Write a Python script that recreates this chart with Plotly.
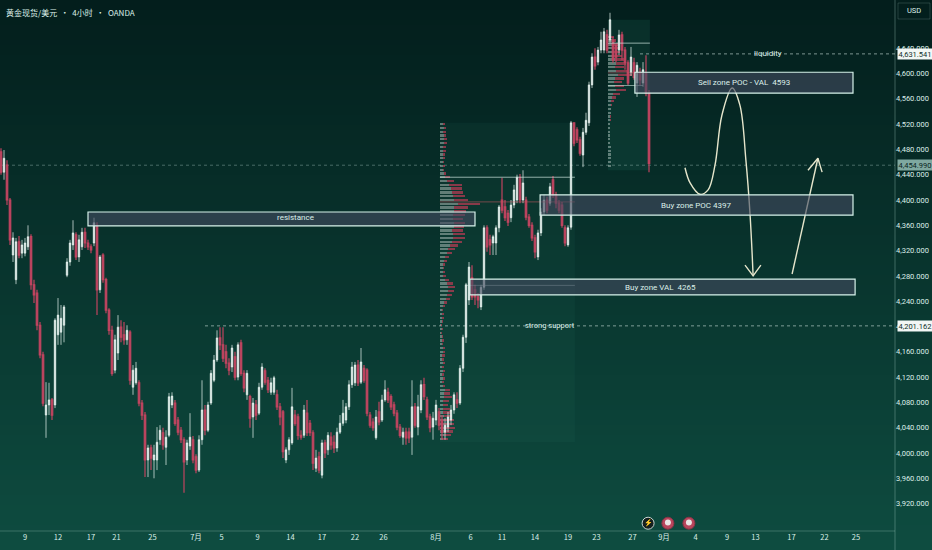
import plotly.graph_objects as go

opens = [
4476,4444,4455,4400,4313,4274,4334,4316,4316,4326,
4342,4266,4253,4202,4155,4060,4076,4084,4076,4187,
4191,4202,4281,4302,4329,4345,4310,4326,4349,4332,
4326,4332,4360,4258,4313,4274,4226,4194,4131,4158,
4199,4187,4179,4191,4104,4111,4111,4079,4060,3989,
4008,3989,3989,4021,4032,4009,4028,4076,4079,4052,
4036,4021,3989,4011,4021,3994,3973,4021,4068,4036,
4079,4115,4147,4182,4171,4160,4142,4136,4152,4120,
4174,4126,4092,4089,4057,4076,4063,4104,4130,4115,
4096,4096,4092,4073,4065,3989,4005,4016,4060,4057,
4028,4028,4063,4047,4032,3976,3994,3965,4016,4005,
4025,4017,4008,4033,4047,4052,4073,4108,4111,4139,
4112,4134,4131,4060,4049,4024,4065,4052,4084,4096,
4089,4076,4063,4041,4025,4033,4033,4025,4073,4041,
4068,4108,4084,4057,4041,4052,4065,4052,4033,4041,
4052,4068,4084,4079,4134,4183,4242,4277,4258,4247,
4231,4262,4356,4337,4332,4332,4356,4400,4389,4379,
4372,4392,4400,4436,4400,4400,4373,4360,4340,4310,
4348,4381,4400,4395,4432,4408,4395,4392,4356,4329,
4357,4522,4511,4495,4471,4507,4522,4582,4626,4618,
4637,4637,4661,4653,4653,4645,4637,4661,4637,4617,
4601,4617,4585,4602,4585,4601,4569]
closes = [
4444,4466,4400,4337,4340,4334,4313,4329,4332,4342,
4266,4250,4202,4155,4079,4076,4084,4060,4210,4218,
4213,4231,4302,4332,4348,4310,4337,4349,4332,4326,
4321,4364,4258,4310,4274,4226,4194,4126,4179,4199,
4183,4179,4194,4115,4131,4134,4079,4060,3989,4008,
3992,3997,4017,4036,4013,4025,4089,4090,4047,4033,
4021,3986,4016,4025,3989,3973,4021,4068,4036,4076,
4126,4147,4182,4171,4150,4142,4131,4166,4120,4171,
4126,4103,4126,4055,4079,4060,4104,4136,4112,4100,
4111,4119,4073,4057,4002,4005,4021,4073,4047,4028,
4025,4068,4032,4032,3984,3992,3973,4016,4000,4028,
4013,4008,4033,4047,4063,4073,4108,4136,4139,4111,
4144,4115,4063,4044,4040,4057,4049,4084,4100,4084,
4073,4063,4041,4028,4033,4024,4024,4073,4044,4073,
4108,4089,4057,4040,4055,4076,4044,4033,4044,4057,
4068,4092,4079,4134,4183,4266,4294,4247,4247,4242,
4262,4356,4326,4329,4342,4356,4389,4384,4372,4365,
4392,4416,4436,4400,4427,4373,4360,4340,4318,4348,
4381,4400,4384,4421,4408,4395,4384,4360,4332,4356,
4522,4490,4495,4474,4507,4526,4582,4626,4612,4637,
4653,4666,4637,4685,4621,4626,4661,4637,4617,4585,
4626,4594,4613,4590,4606,4569,4458]
highs = [
4482,4479,4463,4403,4349,4340,4343,4337,4340,4360,
4346,4274,4258,4207,4160,4112,4111,4087,4213,4245,
4234,4234,4308,4337,4368,4349,4345,4356,4356,4337,
4330,4372,4365,4313,4316,4277,4229,4201,4187,4218,
4210,4207,4202,4194,4139,4144,4115,4084,4065,4013,
4013,4013,4041,4044,4040,4036,4095,4096,4084,4057,
4041,4025,4021,4063,4027,3998,4028,4115,4076,4081,
4131,4155,4194,4199,4199,4171,4150,4171,4160,4175,
4179,4131,4131,4092,4087,4084,4111,4142,4134,4120,
4119,4122,4100,4079,4068,4009,4025,4103,4068,4062,
4036,4076,4084,4052,4036,4005,4002,4021,4021,4033,
4033,4028,4040,4060,4084,4079,4115,4144,4144,4147,
4166,4139,4134,4065,4055,4068,4081,4092,4115,4103,
4093,4081,4068,4046,4040,4040,4040,4115,4079,4092,
4115,4119,4089,4062,4065,4084,4071,4060,4055,4065,
4076,4096,4096,4139,4187,4269,4302,4297,4266,4253,
4266,4360,4360,4345,4345,4360,4392,4435,4400,4384,
4400,4424,4440,4441,4447,4405,4378,4365,4345,4353,
4387,4408,4405,4427,4438,4413,4400,4397,4360,4360,
4525,4523,4515,4500,4514,4538,4587,4632,4640,4642,
4666,4672,4669,4696,4658,4645,4669,4666,4642,4621,
4642,4625,4618,4609,4618,4629,4574]
lows = [
4440,4432,4392,4329,4302,4267,4308,4308,4311,4321,
4258,4237,4194,4150,4074,4024,4060,4052,4071,4171,
4171,4175,4278,4296,4321,4305,4302,4321,4324,4321,
4316,4327,4218,4253,4269,4221,4187,4122,4126,4147,
4175,4171,4171,4108,4092,4108,4074,4052,3962,3962,
3973,3960,3973,4013,4005,3981,4025,4071,4043,4028,
4016,3937,3981,4005,3984,3968,3970,4013,4028,4033,
4076,4112,4144,4163,4144,4134,4123,4128,4115,4115,
4122,4096,4084,4040,4024,4052,4060,4100,4108,4095,
4092,4092,4068,4044,3992,3984,3997,4013,4043,4021,
4021,4024,4027,4027,3973,3970,3968,3960,3992,3997,
4005,4000,4002,4030,4043,4047,4068,4103,4106,4106,
4109,4111,4058,4040,4035,4021,4044,4049,4081,4079,
4068,4058,4036,4024,4013,4013,4016,3997,4040,4028,
4063,4084,4052,4033,4021,4044,4036,4021,4021,4033,
4044,4062,4071,4076,4128,4174,4234,4242,4234,4229,
4226,4258,4318,4313,4313,4313,4349,4379,4367,4359,
4365,4387,4395,4395,4395,4368,4356,4335,4308,4305,
4343,4376,4379,4391,4403,4387,4379,4356,4327,4326,
4353,4485,4490,4470,4452,4503,4517,4577,4606,4613,
4632,4632,4632,4648,4617,4618,4629,4621,4606,4582,
4596,4590,4563,4582,4579,4564,4444]

profile_levels = [
4520,4514,4508,4502,4496,4490,4484,4478,4472,4466,
4460,4454,4448,4442,4436,4430,4424,4418,4412,4406,
4400,4394,4388,4382,4376,4370,4364,4358,4352,4346,
4340,4334,4328,4322,4316,4310,4304,4298,4292,4286,
4280,4274,4268,4262,4256,4250,4244,4238,4232,4226,
4220,4214,4208,4202,4196,4190,4184,4178,4172,4166,
4160,4154,4148,4142,4136,4130,4124,4118,4112,4106,
4100,4094,4088,4082,4076,4070,4064,4058,4052,4046,
4040,4034,4028,4022]
profile_total = [
5,6,6,6,7,7,6,6,5,5,4,5,4,6,10,14,22,22,23,25,
28,40,28,26,25,23,25,24,23,25,25,22,18,15,12,9,7,5,4,5,
6,9,13,15,14,12,10,7,5,3,4,4,3,2,3,2,3,4,3,5,
5,5,4,5,4,5,4,5,4,5,10,10,12,9,8,10,11,12,14,14,
15,13,11,8]
profile_up = [
3,4,3,4,4,4,3,3,3,3,3,3,3,4,5,7,9,11,12,13,
14,18,14,14,13,13,14,14,12,13,13,12,10,8,7,5,4,3,3,3,
3,5,7,8,8,7,6,4,3,2,2,2,2,1,2,1,2,2,2,3,
3,2,2,3,2,3,2,3,2,3,5,4,4,3,3,3,3,4,4,4,
4,4,4,3]

profile2_levels = [
4658,4652,4646,4640,4634,4628,4622,4616,4610,4604,
4598,4592,4586,4580,4574,4568,4562,4556,4550,4544,
4538,4532,4526,4520,4514,4508,4502,4496,4490,4484,
4478,4472,4466,4460,4454]
profile2_total = [
6,8,10,12,12,14,16,18,16,20,24,16,14,16,18,12,8,6,
4,3,3,3,3,2,2,2,2,2,2,3,3,3,3,3,3]
profile2_up = [
3,4,5,5,6,6,7,8,7,8,10,7,6,7,8,5,4,3,
3,3,3,2,2,2,2,2,2,2,2,3,3,3,3,3,3]

x_tick_bars = [8,19,30,38.5,50.5,65,73.5,85.5,96.5,107,118,127.5,145,156.5,167,178,189,198.5,210.5,221,231.5,242,251.5,263.5,274.5,285]
x_tick_text = ["9","12","17","21","25","7月","5","9","14","17","22","26","8月","6","11","14","19","23","27","9月","4","9","13","17","22","25"]
y_ticks = [3920,3960,4000,4040,4080,4120,4160,4200,4240,4280,4320,4360,4400,4440,4480,4520,4560,4600,4640]

curve_bars = [228,229.7,233,235.7,238,240.3,243.7,246.3,248.3,249.7,250.7]
curve_prices = [4451,4427,4409,4416,4455,4534,4577,4550,4463,4376,4281]

bars = list(range(len(opens)))
BAR_LEFT = -1/3
BAR_RIGHT = 298
Y_LOW = 3876.7
Y_HIGH = 4716.2
CREAM = "#e6e6cc"
MINT = "#d6f2ea"
FONT = "Liberation Sans Narrow, Roboto, sans-serif"
TEXT = "#dcefe9"

fig = go.Figure()

# volume profiles
for lv, tot, up, start in [(profile_levels, profile_total, profile_up, 146.3),
                           (profile2_levels, profile2_total, profile2_up, 202.3)]:
    up_w = [u / 3 for u in up]
    dn_w = [(t - u) / 3 for t, u in zip(tot, up)]
    fig.add_trace(go.Bar(y=lv, x=up_w, base=[start] * len(lv), orientation="h", width=3.6,
                         marker=dict(color="rgba(170,185,180,0.55)", line_width=0), showlegend=False))
    fig.add_trace(go.Bar(y=lv, x=dn_w, base=[start + w for w in up_w], orientation="h", width=3.6,
                         marker=dict(color="rgba(190,60,85,0.7)", line_width=0), showlegend=False))

fig.add_trace(go.Candlestick(
    x=bars, open=opens, high=highs, low=lows, close=closes, whiskerwidth=0,
    increasing=dict(line=dict(color="#e9f7f2", width=0.7), fillcolor="#f4fbf8"),
    decreasing=dict(line=dict(color="#c0445f", width=1.2), fillcolor="#c4506a"),
    showlegend=False))

# projected path and arrows
line_style = dict(color=CREAM, width=1.4)
fig.add_trace(go.Scatter(x=curve_bars, y=curve_prices, mode="lines",
                         line=dict(shape="spline", smoothing=1.0, **line_style), showlegend=False))
fig.add_trace(go.Scatter(x=[248, 250.7, 253.3], y=[4297, 4280, 4297], mode="lines", line=line_style, showlegend=False))
fig.add_trace(go.Scatter(x=[263.7, 272.3], y=[4283, 4466], mode="lines", line=line_style, showlegend=False))
fig.add_trace(go.Scatter(x=[269, 272.3, 273.7], y=[4447, 4466, 4444], mode="lines", line=line_style, showlegend=False))

# event icons
fig.add_trace(go.Scatter(x=[215.7, 222.3, 229.3], y=[3889, 3889, 3889], mode="markers",
                         marker=dict(size=12, color=["#15201f", "#b8455c", "#b8455c"],
                                     line=dict(color=["#c9d6d2", "#8a3548", "#8a3548"], width=1)),
                         showlegend=False))
fig.add_trace(go.Scatter(x=[222.3, 229.3], y=[3890, 3890], mode="markers",
                         marker=dict(size=6, color="#e9e4e4"), showlegend=False))
fig.add_trace(go.Scatter(x=[215.7], y=[3889], mode="text", text=["⚡"],
                         textfont=dict(size=7, color="#dfe8e5"), showlegend=False))

shapes = []
# vertical gradient background
N = 110
top, bot = (3, 30, 28), (14, 76, 64)
band = (550 / 531) / N
for k in range(N):
    t = k / (N - 1)
    c = tuple(round(a + (b - a) * t) for a, b in zip(top, bot))
    shapes.append(dict(type="rect", xref="paper", yref="paper", x0=0, x1=932 / 895,
                       y1=1 - k * band, y0=1 - (k + 1) * band - 0.001,
                       fillcolor=f"rgb{c}", line_width=0, layer="below"))
# profile boxes
shapes.append(dict(type="rect", x0=146.3, x1=191.3, y0=4017, y1=4522, layer="below", line_width=0,
                   fillcolor="rgba(45,140,120,0.08)"))
shapes.append(dict(type="rect", x0=202.3, x1=216.3, y0=4447, y1=4685, layer="below", line_width=0,
                   fillcolor="rgba(45,140,120,0.14)"))
# price lines
def dotted(x0, price, color="rgba(205,225,220,0.6)"):
    shapes.append(dict(type="line", x0=x0, x1=BAR_RIGHT, y0=price, y1=price, layer="below",
                       line=dict(color=color, width=1, dash="dot")))
dotted(BAR_LEFT, 4455, "rgba(170,205,195,0.4)")
dotted(68, 4201)
dotted(213, 4631)
# profile reference lines
for x0, x1, p, col in [(146.3, 191.3, 4436, "rgba(205,230,222,0.7)"), (146.3, 191.3, 4397, "rgba(200,90,100,0.55)"),
                       (155, 191.3, 4265, "rgba(205,230,222,0.5)"), (202.3, 216.3, 4648, "rgba(205,230,222,0.7)"),
                       (202.3, 214, 4581, "rgba(205,230,222,0.6)"), (202.3, 214, 4601, "rgba(200,90,100,0.55)")]:
    shapes.append(dict(type="line", x0=x0, x1=x1, y0=p, y1=p, line=dict(color=col, width=1)))
# zones
for x0, x1, p0, p1 in [(29, 158, 4359, 4381), (211.3, 284, 4569, 4602),
                       (179.7, 284, 4376, 4408), (156.3, 284.7, 4250, 4275)]:
    shapes.append(dict(type="rect", x0=x0, x1=x1, y0=p0, y1=p1, layer="above",
                       fillcolor="rgba(66,74,96,0.62)", line=dict(color=MINT, width=1.2)))
# axis frames
shapes.append(dict(type="line", xref="paper", yref="paper", x0=1, x1=1, y0=-19 / 531, y1=1,
                   line=dict(color="rgba(170,205,195,0.35)", width=1)))
shapes.append(dict(type="line", xref="paper", yref="paper", x0=0, x1=1, y0=0, y1=0,
                   line=dict(color="rgba(170,205,195,0.3)", width=1)))
shapes.append(dict(type="rect", xref="paper", yref="paper", x0=898 / 895, x1=930 / 895,
                   y0=1 - 19 / 531, y1=1 - 3 / 531, line=dict(color="rgba(170,205,195,0.2)", width=1)))

def label(x, p, text, size=8):
    return dict(x=x, y=p, text=text, showarrow=False, xanchor="center", yanchor="middle",
                font=dict(family=FONT, size=size, color=TEXT))

annotations = [
    label(98, 4372, "resistance"),
    label(247.7, 4585, "Sell zone POC - VAL  4593"),
    label(231.7, 4392, "Buy zone POC 4397"),
    label(219.7, 4262, "Buy zone VAL  4265"),
    label(255.7, 4631, "liquidity"),
    label(183, 4201, "strong support", 7.5),
    dict(xref="paper", yref="paper", x=4 / 895, y=1 - 12 / 531, xanchor="left", yanchor="middle",
         showarrow=False, text="黄金现货/美元  •  4小时  •  OANDA",
         font=dict(family="Noto Sans CJK SC", size=8, color=TEXT)),
    dict(xref="paper", yref="paper", x=914 / 895, y=1 - 11 / 531, xanchor="center", yanchor="middle",
         showarrow=False, text="USD", font=dict(family=FONT, size=7.5, color=TEXT)),
]
for price, text, bg, fg in [(4631.541, "4,631.541", "#f2f7f5", "#10302b"),
                            (4454.99, "4,454.990", "#7fa8a0", "#0b2622"),
                            (4201.162, "4,201.162", "#f2f7f5", "#10302b")]:
    annotations.append(dict(xref="paper", x=897 / 895, y=price, xanchor="left", yanchor="middle",
                            showarrow=False, text=text, bgcolor=bg, borderpad=0.5,
                            font=dict(family="Roboto", size=7.5, color=fg)))

fig.update_layout(
    width=932, height=550, margin=dict(l=0, r=37, t=0, b=19),
    paper_bgcolor="#0a3a32", plot_bgcolor="rgba(0,0,0,0)", barmode="overlay", bargap=0,
    shapes=shapes, annotations=annotations, showlegend=False,
    xaxis=dict(range=[BAR_LEFT, BAR_RIGHT], rangeslider=dict(visible=False), showgrid=False, zeroline=False,
               showline=False, tickmode="array", tickvals=x_tick_bars, ticktext=x_tick_text, ticks="",
               tickangle=0, tickfont=dict(family="Noto Sans CJK SC", size=7.5, color=TEXT)),
    yaxis=dict(range=[Y_LOW, Y_HIGH], side="right", showgrid=False, zeroline=False, showline=False,
               tickmode="array", tickvals=y_ticks, ticktext=[f"{v:,.3f}" for v in y_ticks], ticks="",
               tickfont=dict(family="Roboto", size=7.5, color=TEXT)),
)
fig.write_html("out.html", config={"displayModeBar": False},
               post_script="document.body.style.margin='0';document.body.style.overflow='hidden';document.body.style.background='#0a3a32';")
